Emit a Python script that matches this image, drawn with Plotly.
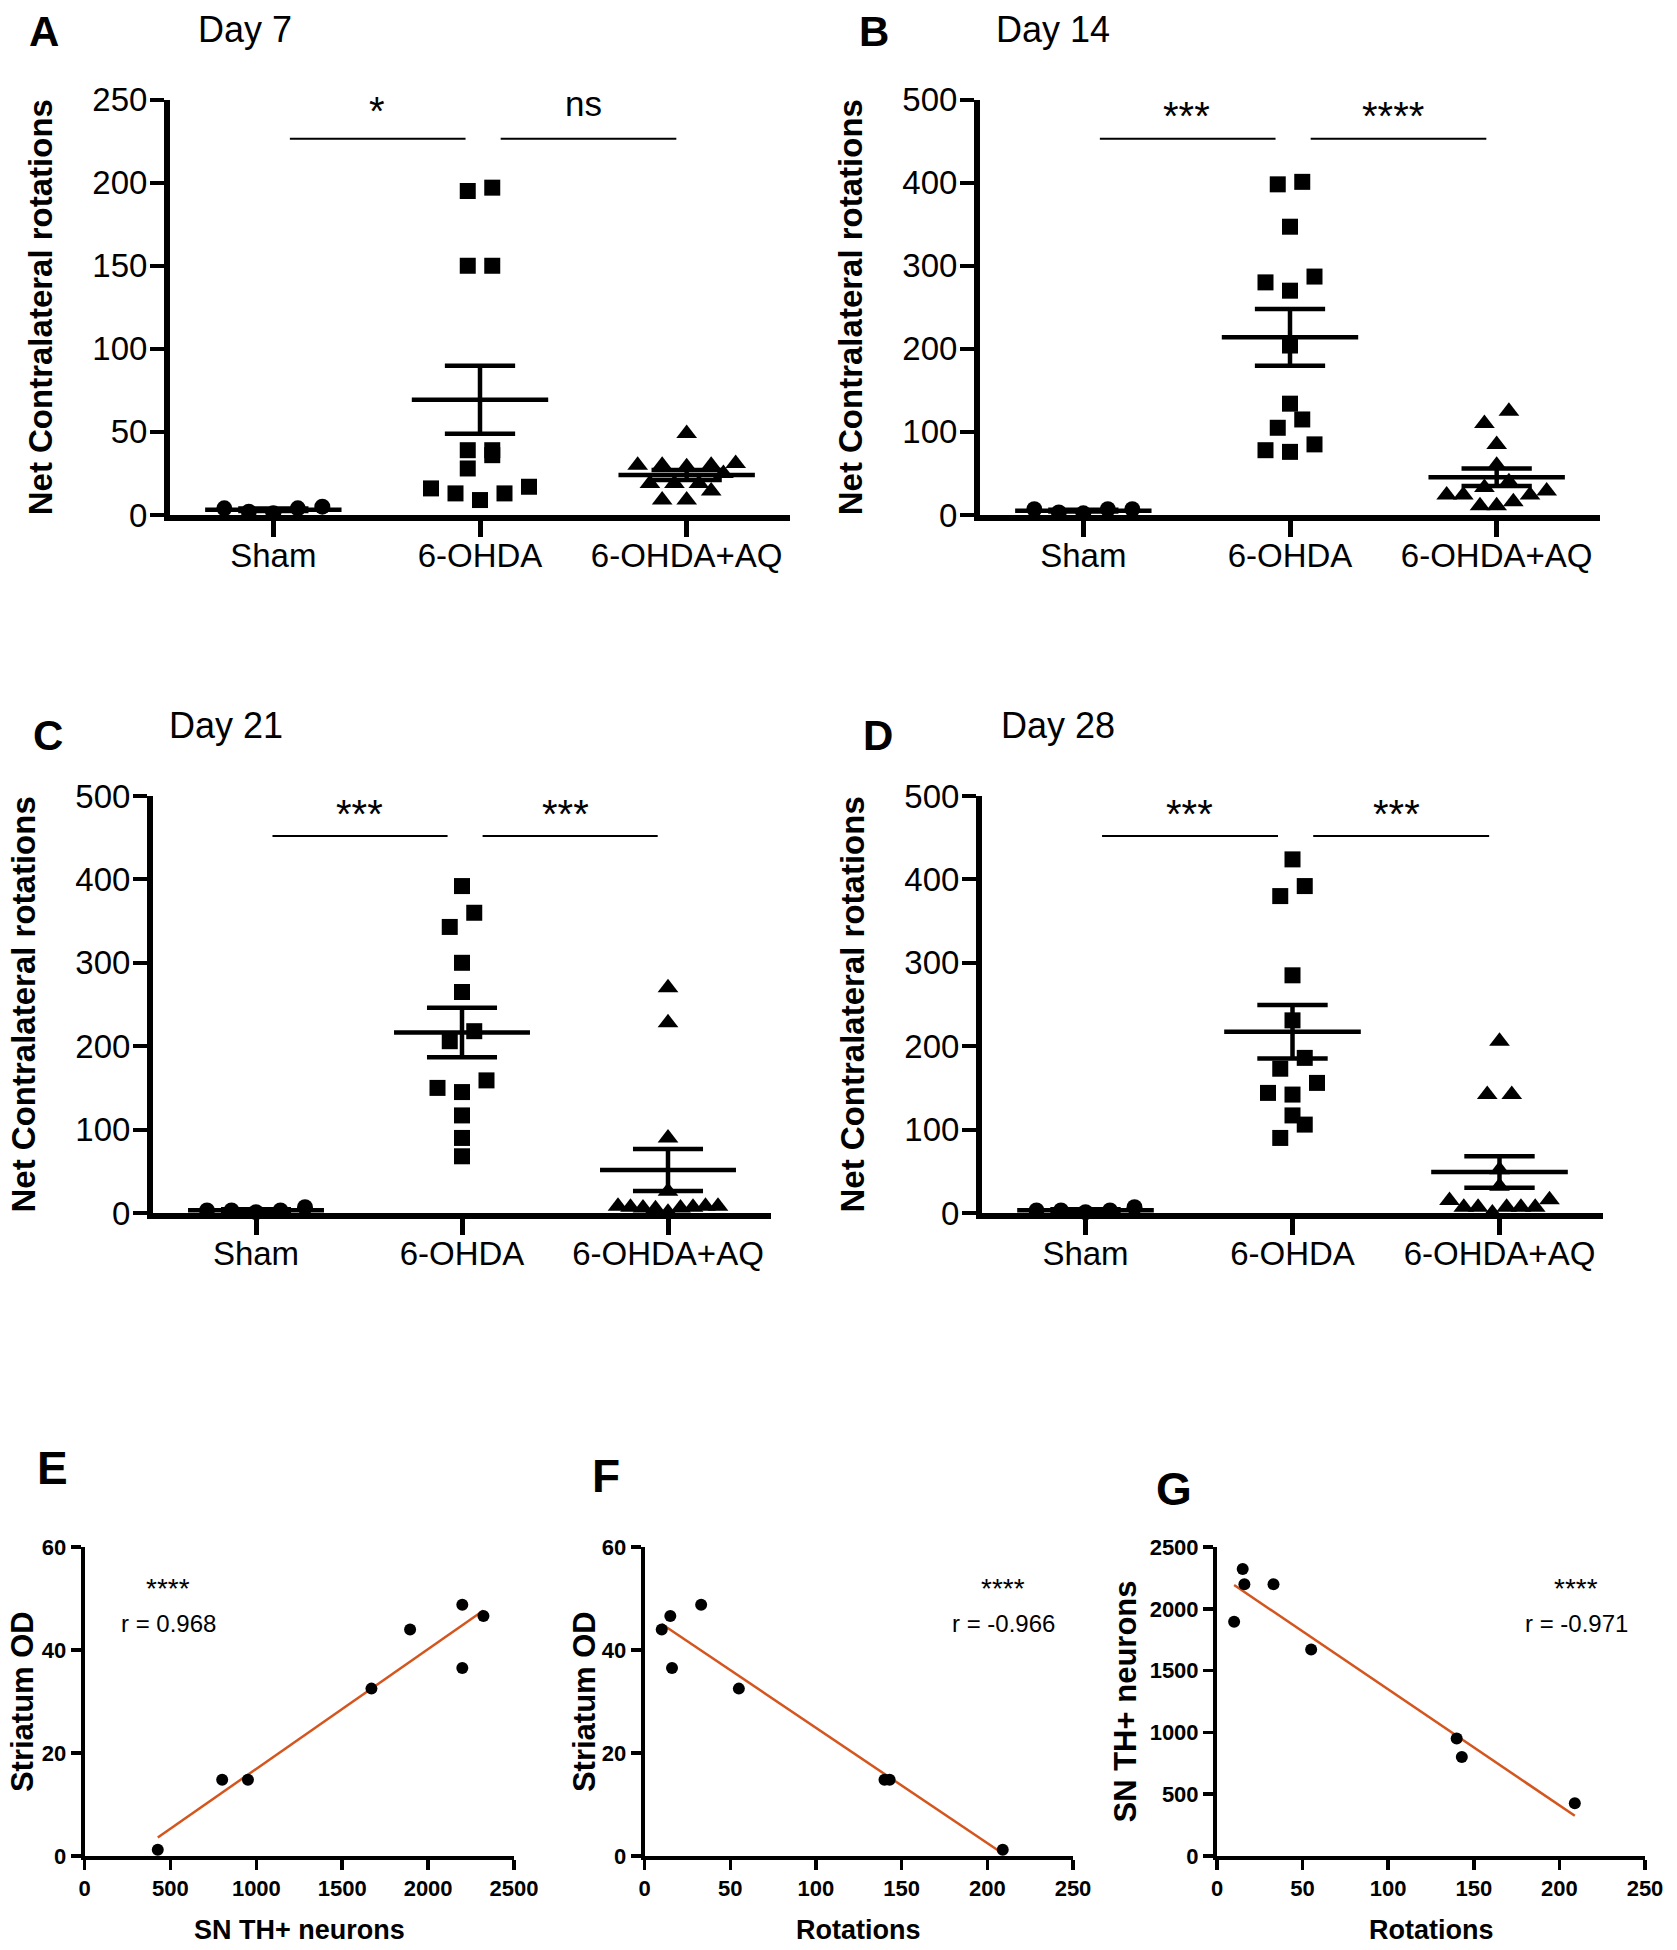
import numpy as np
import plotly.graph_objects as go

W, H = 1677, 1950
SANS = "Liberation Sans, Arial, sans-serif"

# ---------------- data ----------------
groups = ["Sham", "6-OHDA", "6-OHDA+AQ"]

day7_sham = [5, 4, 1, 2, 4]
day7_ohda = [197, 195, 150, 150, 39, 36, 39, 28, 16, 17, 13, 13, 9]
day7_aq = [49, 31, 30, 29, 30, 30, 25, 19, 19, 19, 14.5, 9, 9]

day14_sham = [7, 7, 2, 3, 7]
day14_ohda = [401, 398, 347, 280, 287, 270, 204, 134, 115, 105, 85, 76, 78]
day14_aq = [125, 110, 85, 60, 40, 29, 24, 33, 24, 24, 16, 11, 11]

day21_sham = [7, 3, 1, 3, 3]
day21_ohda = [392, 360, 343, 300, 265, 218, 206, 150, 145, 159, 117, 90, 68]
day21_aq = [270, 228, 90, 26, 8, 7, 6, 8, 5, 7, 6, 8, 1]

day28_sham = [7, 3, 1, 3, 3]
day28_ohda = [424, 392, 380, 285, 231, 186, 173, 156, 144, 142, 117, 106, 90]
day28_aq = [206, 142, 142, 52, 32, 15, 16, 7, 7, 7, 7, 7, 0]

sig_day7 = ["*", "ns"]
sig_day14 = ["***", "****"]
sig_day21 = ["***", "***"]
sig_day28 = ["***", "***"]

rotations = [10, 15, 16, 33, 55, 140, 143, 209]
striatum_od = [44, 46.6, 36.5, 48.8, 32.5, 14.8, 14.8, 1.2]
sn_th_neurons = [1895, 2322, 2199, 2199, 1670, 951, 801, 426]
corr_text = {"E": "r = 0.968", "F": "r = -0.966", "G": "r = -0.971"}

# ---------------- helpers ----------------
fig = go.Figure()
layout = {}
annotations = []


def sfx(i):
    return "" if i == 1 else str(i)


def swarm_offsets(values, row_h, step_units, max_half):
    vals = np.asarray(values, float)
    order = np.argsort(vals, kind="stable")
    offs = np.zeros(len(vals))
    i = 0
    while i < len(order):
        row = [order[i]]
        j = i + 1
        while j < len(order) and vals[order[j]] - vals[order[i]] < row_h:
            row.append(order[j])
            j += 1
        n = len(row)
        step = step_units if n <= 1 else min(step_units, 2 * max_half / (n - 1))
        slots = [(k - (n - 1) / 2) * step for k in range(n)]
        slots.sort(key=lambda s: (round(abs(s), 6), s))
        for idx, s in zip(row, slots):
            offs[idx] = s
        i = j
    return offs


def mean_sem(v):
    v = np.asarray(v, float)
    return v.mean(), v.std(ddof=1) / np.sqrt(len(v))


base_axis = dict(showline=True, linecolor="black", showgrid=False, zeroline=False,
                 ticks="outside", tickcolor="black", fixedrange=True, automargin=False)

# ---------------- top panels (A-D) ----------------
top_panels = [
    dict(letter="A", day="Day 7", data=[day7_sham, day7_ohda, day7_aq], ymax=250, ystep=50,
         sig=sig_day7, sig_y=226.5, txt_y=243, box=(170, 790, 99.6, 515),
         letter_pos=(44, 32), day_pos=(196, 29)),
    dict(letter="B", day="Day 14", data=[day14_sham, day14_ohda, day14_aq], ymax=500, ystep=100,
         sig=sig_day14, sig_y=453, txt_y=480, box=(980, 1600, 99.6, 515),
         letter_pos=(874, 32), day_pos=(994, 29)),
    dict(letter="C", day="Day 21", data=[day21_sham, day21_ohda, day21_aq], ymax=500, ystep=100,
         sig=sig_day21, sig_y=452, txt_y=479, box=(153, 771, 796, 1213),
         letter_pos=(48, 735), day_pos=(167, 725)),
    dict(letter="D", day="Day 28", data=[day28_sham, day28_ohda, day28_aq], ymax=500, ystep=100,
         sig=sig_day28, sig_y=452, txt_y=479, box=(982, 1603, 796, 1213),
         letter_pos=(878, 735), day_pos=(999, 725)),
]

symbols = ["circle", "square", "triangle-up"]
msizes = [16, 16, 18]

for i, p in enumerate(top_panels, start=1):
    s = sfx(i)
    x0, x1, yt, yb = p["box"]
    ymax = p["ymax"]
    tf = dict(family=SANS, size=33, color="black")
    layout["xaxis" + s] = dict(
        domain=[x0 / W, x1 / W], anchor="y" + s, range=[-0.5, 2.5],
        tickmode="array", tickvals=[0, 1, 2], ticktext=groups,
        ticklen=16, tickwidth=5, linewidth=6, tickfont=tf, ticklabelstandoff=-10,
        **base_axis)
    layout["yaxis" + s] = dict(
        domain=[1 - yb / H, 1 - yt / H], anchor="x" + s, range=[0, ymax],
        tickmode="array", tickvals=list(range(0, ymax + 1, p["ystep"])),
        ticklen=14, tickwidth=4, linewidth=6, tickfont=tf, ticklabelstandoff=-4,
        **base_axis)

    px_x = (x1 - x0) / 3.0
    px_y = (yb - yt) / ymax
    for g, vals in enumerate(p["data"]):
        offs = swarm_offsets(vals, 16 / px_y, 24.5 / px_x, 50 / px_x)
        fig.add_trace(go.Scatter(
            x=g + offs, y=vals, mode="markers", xaxis="x" + s, yaxis="y" + s,
            marker=dict(symbol=symbols[g], size=msizes[g], color="black", line=dict(width=0)),
            cliponaxis=False, showlegend=False, hoverinfo="skip"))
    for g, vals in enumerate(p["data"]):
        m, e = mean_sem(vals)
        xs = [g - 0.33, g + 0.33, None, g - 0.17, g + 0.17, None, g, g, None, g - 0.17, g + 0.17]
        ys = [m, m, None, m + e, m + e, None, m + e, m - e, None, m - e, m - e]
        fig.add_trace(go.Scatter(
            x=xs, y=ys, mode="lines", xaxis="x" + s, yaxis="y" + s,
            line=dict(color="black", width=4.5), cliponaxis=False,
            showlegend=False, hoverinfo="skip"))
    # significance bars
    fig.add_trace(go.Scatter(
        x=[0.08, 0.93, None, 1.10, 1.95], y=[p["sig_y"]] * 2 + [None] + [p["sig_y"]] * 2,
        mode="lines", xaxis="x" + s, yaxis="y" + s, line=dict(color="black", width=2),
        showlegend=False, hoverinfo="skip", cliponaxis=False))
    for k, lab in enumerate(p["sig"]):
        is_text = lab.isalpha()
        annotations.append(dict(
            x=0.5 + k, y=p["txt_y"], xref="x" + s, yref="y" + s, text=lab, showarrow=False,
            yshift=8 if is_text else 0,
            font=dict(family=SANS, size=35 if is_text else 40, color="black"),
            xanchor="center", yanchor="middle"))
    # panel letter, day title, y title
    lx, ly = p["letter_pos"]
    annotations.append(dict(x=lx / W, y=1 - ly / H, xref="paper", yref="paper",
                            text="<b>" + p["letter"] + "</b>", showarrow=False,
                            font=dict(family=SANS, size=42, color="black"),
                            xanchor="center", yanchor="middle"))
    dx, dy = p["day_pos"]
    annotations.append(dict(x=dx / W, y=1 - dy / H, xref="paper", yref="paper",
                            text=p["day"], showarrow=False,
                            font=dict(family=SANS, size=36, color="black"),
                            xanchor="left", yanchor="middle"))
    annotations.append(dict(x=(x0 - 130) / W, y=1 - (yt + yb) / 2 / H, xref="paper", yref="paper",
                            text="<b>Net Contralateral rotations</b>", showarrow=False,
                            textangle=-90, font=dict(family=SANS, size=33, color="black"),
                            xanchor="center", yanchor="middle"))

# ---------------- bottom panels (E-G) ----------------
bottom_panels = [
    dict(letter="E", x=sn_th_neurons, y=striatum_od, xr=2500, xs=500, yr=60, ys=20,
         xtitle="SN TH+ neurons", ytitle="Striatum OD", box=(84.6, 514, 1547, 1856),
         letter_pos=(52, 1468), txt_x=168, ytitle_off=62),
    dict(letter="F", x=rotations, y=striatum_od, xr=250, xs=50, yr=60, ys=20,
         xtitle="Rotations", ytitle="Striatum OD", box=(644.6, 1073, 1547, 1856),
         letter_pos=(606, 1476), txt_x=1003, ytitle_off=60),
    dict(letter="G", x=rotations, y=sn_th_neurons, xr=250, xs=50, yr=2500, ys=500,
         xtitle="Rotations", ytitle="SN TH+ neurons", box=(1217, 1645, 1547, 1856),
         letter_pos=(1174, 1489), txt_x=1576, ytitle_off=92),
]

for j, p in enumerate(bottom_panels, start=5):
    s = sfx(j)
    x0, x1, yt, yb = p["box"]
    tf = dict(family=SANS, size=22, color="black")
    xt = list(range(0, p["xr"] + 1, p["xs"]))
    yt_vals = list(range(0, p["yr"] + 1, p["ys"]))
    layout["xaxis" + s] = dict(
        domain=[x0 / W, x1 / W], anchor="y" + s, range=[0, p["xr"]],
        tickmode="array", tickvals=xt, ticktext=["<b>%d</b>" % v for v in xt],
        ticklen=10, tickwidth=3.5, linewidth=4, tickfont=tf, **base_axis)
    layout["yaxis" + s] = dict(
        domain=[1 - yb / H, 1 - yt / H], anchor="x" + s, range=[0, p["yr"]],
        tickmode="array", tickvals=yt_vals, ticktext=["<b>%d</b>" % v for v in yt_vals],
        ticklen=10, tickwidth=3.5, linewidth=4, tickfont=tf,
        **base_axis)
    xv = np.asarray(p["x"], float)
    yv = np.asarray(p["y"], float)
    slope, icpt = np.polyfit(xv, yv, 1)
    xl = np.array([xv.min(), xv.max()])
    fig.add_trace(go.Scatter(
        x=xl, y=slope * xl + icpt, mode="lines", xaxis="x" + s, yaxis="y" + s,
        line=dict(color="#D4561E", width=2.5), showlegend=False, hoverinfo="skip"))
    fig.add_trace(go.Scatter(
        x=xv, y=yv, mode="markers", xaxis="x" + s, yaxis="y" + s,
        marker=dict(symbol="circle", size=12, color="black"), cliponaxis=False,
        showlegend=False, hoverinfo="skip"))
    annotations.append(dict(x=p["txt_x"] / W, y=1 - 1588 / H, xref="paper", yref="paper",
                            text="****", showarrow=False,
                            font=dict(family=SANS, size=28, color="black"),
                            xanchor="center", yanchor="middle"))
    annotations.append(dict(x=p["txt_x"] / W, y=1 - 1623 / H, xref="paper", yref="paper",
                            text=corr_text[p["letter"]], showarrow=False,
                            font=dict(family=SANS, size=24, color="black"),
                            xanchor="center", yanchor="middle"))
    lx, ly = p["letter_pos"]
    annotations.append(dict(x=lx / W, y=1 - ly / H, xref="paper", yref="paper",
                            text="<b>" + p["letter"] + "</b>", showarrow=False,
                            font=dict(family=SANS, size=46, color="black"),
                            xanchor="center", yanchor="middle"))
    annotations.append(dict(x=(x0 + x1) / 2 / W, y=1 - 1930 / H, xref="paper", yref="paper",
                            text="<b>" + p["xtitle"] + "</b>", showarrow=False,
                            font=dict(family=SANS, size=27, color="black"),
                            xanchor="center", yanchor="middle"))
    annotations.append(dict(x=(x0 - p["ytitle_off"]) / W, y=1 - (yt + yb) / 2 / H,
                            xref="paper", yref="paper",
                            text="<b>" + p["ytitle"] + "</b>", showarrow=False, textangle=-90,
                            font=dict(family=SANS, size=31, color="black"),
                            xanchor="center", yanchor="middle"))

fig.update_layout(
    width=W, height=H, margin=dict(l=0, r=0, t=0, b=0, pad=0, autoexpand=False),
    paper_bgcolor="white", plot_bgcolor="white",
    annotations=annotations, **layout)

fig.write_html("out.html", config={"displayModeBar": False, "staticPlot": True},
               post_script="document.body.style.margin='0';document.body.style.overflow='hidden';")
